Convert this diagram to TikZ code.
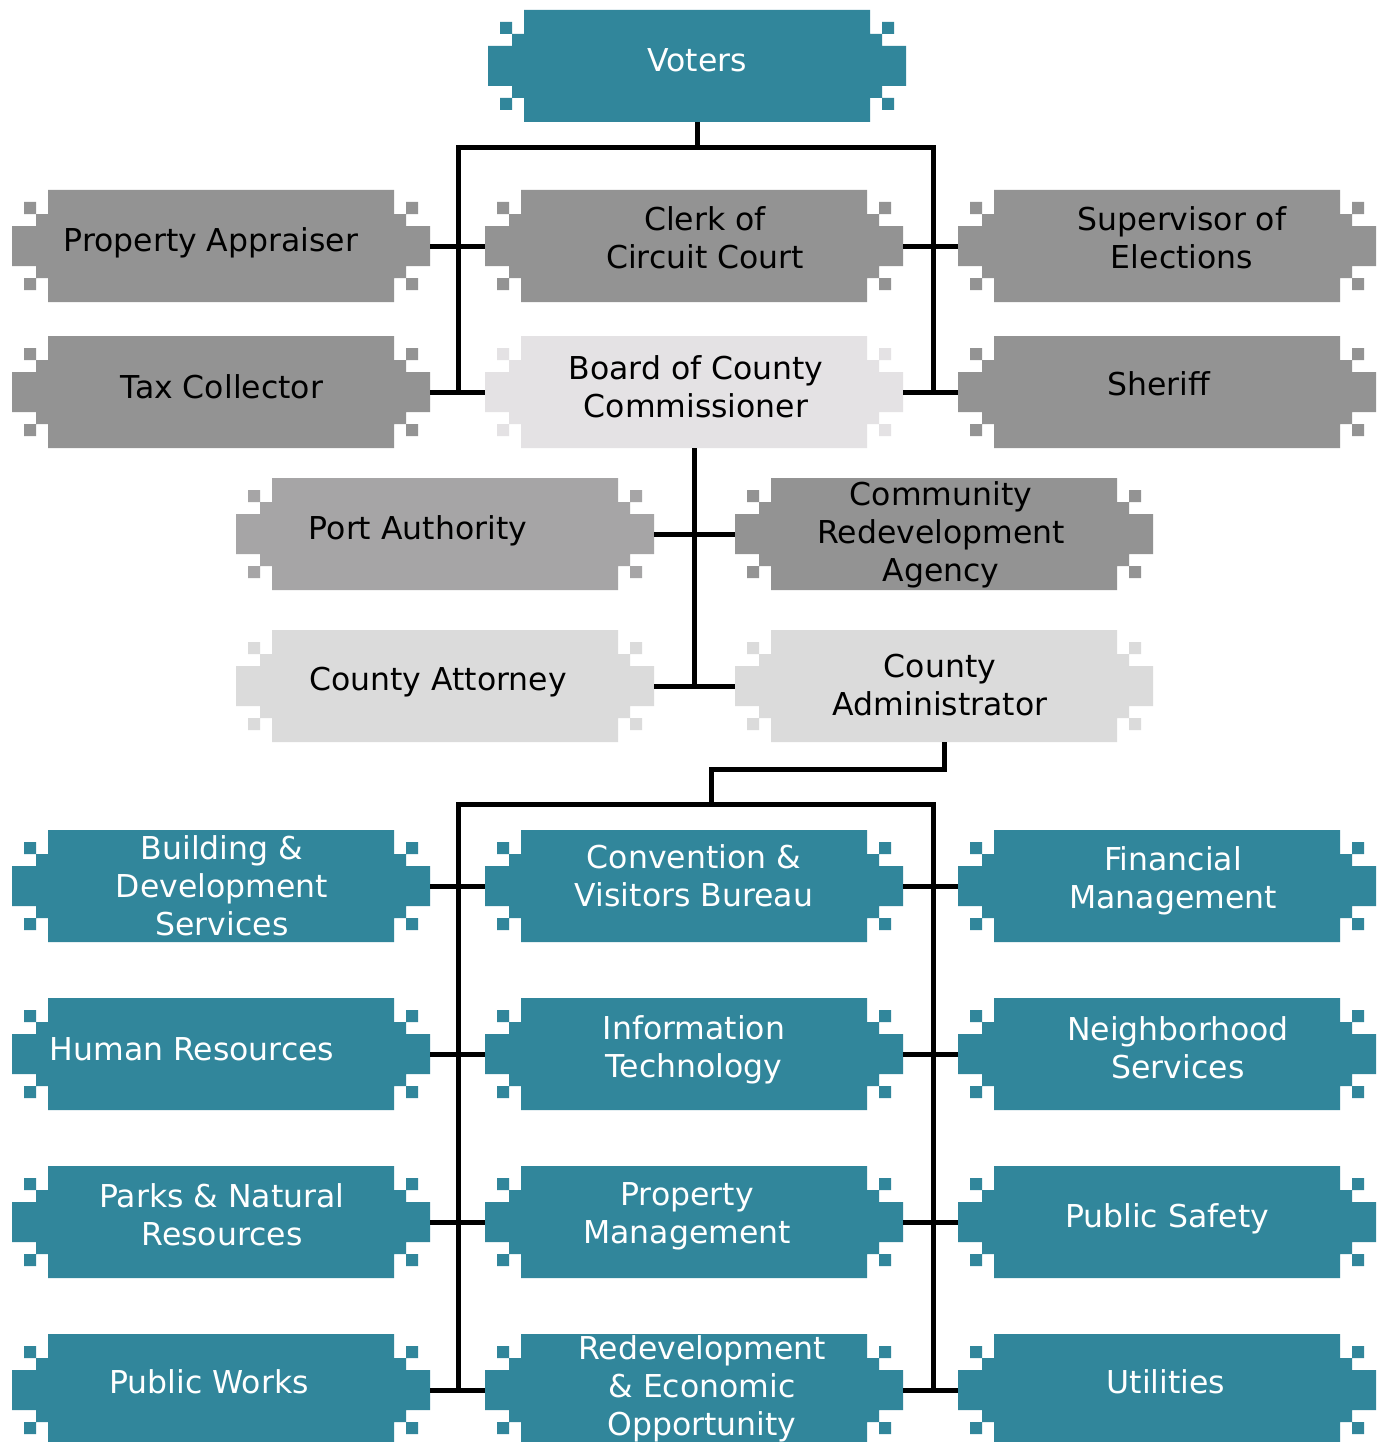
\documentclass[tikz,border=0pt]{standalone}
\usepackage{fontspec}
\setmainfont{DejaVu Sans}
\usetikzlibrary{calc}

\definecolor{tealbox}{HTML}{31869B}
\definecolor{darkbox}{HTML}{939393}
\definecolor{midbox}{HTML}{A6A5A6}
\definecolor{boardbox}{HTML}{E4E2E4}
\definecolor{lightbox}{HTML}{DBDBDB}

\tikzset{
  block/.style={minimum width=418pt, minimum height=112pt, inner sep=0pt, outer sep=0pt,
    path picture={
      \fill[#1]
        % main body
        ([xshift=36pt]path picture bounding box.north west) rectangle ([xshift=-36pt]path picture bounding box.south east)
        % left steps
        ([shift={(24pt,-24pt)}]path picture bounding box.north west) rectangle ([shift={(36pt,24pt)}]path picture bounding box.south west)
        ([shift={(0pt,-36pt)}]path picture bounding box.north west) rectangle ([shift={(24pt,36pt)}]path picture bounding box.south west)
        ([shift={(12pt,-12pt)}]path picture bounding box.north west) rectangle ([shift={(24pt,-24pt)}]path picture bounding box.north west)
        ([shift={(12pt,12pt)}]path picture bounding box.south west) rectangle ([shift={(24pt,24pt)}]path picture bounding box.south west)
        % right steps
        ([shift={(-24pt,-24pt)}]path picture bounding box.north east) rectangle ([shift={(-36pt,24pt)}]path picture bounding box.south east)
        ([shift={(0pt,-36pt)}]path picture bounding box.north east) rectangle ([shift={(-24pt,36pt)}]path picture bounding box.south east)
        ([shift={(-12pt,-12pt)}]path picture bounding box.north east) rectangle ([shift={(-24pt,-24pt)}]path picture bounding box.north east)
        ([shift={(-12pt,12pt)}]path picture bounding box.south east) rectangle ([shift={(-24pt,24pt)}]path picture bounding box.south east);
    }},
  lbl/.style={align=center, inner sep=0pt, font=\fontsize{31.5}{38}\selectfont, text=black},
  wlbl/.style={lbl, text=white},
  wire/.style={line width=5pt, line join=miter, draw=black},
}

\begin{document}
\begin{tikzpicture}[x=1pt, y=-1pt]
\useasboundingbox[fill=white] (0,0) rectangle (1386,1442);

% ---- elected level ----
\node[block=tealbox] (voters) at (697,66) {};
\node[wlbl] (voters-t) at (697,60) {Voters};

\node[block=darkbox] (appraiser) at (221,246) {};
\node[lbl] (appraiser-t) at (211,243) {Property Appraiser};
\node[block=darkbox] (clerk) at (694,246) {};
\node[lbl] (clerk-t) at (705,238) {Clerk of\\Circuit Court};
\node[block=darkbox] (supervisor) at (1167,246) {};
\node[lbl] (supervisor-t) at (1182,238) {Supervisor of\\Elections};

\node[block=darkbox] (tax) at (221,392) {};
\node[lbl] (tax-t) at (222,387) {Tax Collector};
\node[block=boardbox] (board) at (694,392) {};
\node[lbl] (board-t) at (696,387) {Board of County\\Commissioner};
\node[block=darkbox] (sheriff) at (1167,392) {};
\node[lbl] (sheriff-t) at (1159,384) {Sheriff};

% ---- board level ----
\node[block=midbox] (port) at (445,534) {};
\node[lbl] (port-t) at (418,531) {Port Authority};
\node[block=darkbox] (cra) at (944,534) {};
\node[lbl] (cra-t) at (941,535) {Community\\Redevelopment\\Agency};

\node[block=lightbox] (attorney) at (445,686) {};
\node[lbl] (attorney-t) at (438,682) {County Attorney};
\node[block=lightbox] (admin) at (944,686) {};
\node[lbl] (admin-t) at (940,685) {County\\Administrator};

% ---- departments ----
\node[block=tealbox] (building) at (221,886) {};
\node[wlbl] (building-t) at (222,886) {Building \&\\Development\\Services};
\node[block=tealbox] (convention) at (694,886) {};
\node[wlbl] (convention-t) at (694,876) {Convention \&\\Visitors Bureau};
\node[block=tealbox] (financial) at (1167,886) {};
\node[wlbl] (financial-t) at (1173,881) {Financial\\Management};

\node[block=tealbox] (hr) at (221,1054) {};
\node[wlbl] (hr-t) at (192,1049) {Human Resources};
\node[block=tealbox] (it) at (694,1054) {};
\node[wlbl] (it-t) at (694,1050) {Information\\Technology};
\node[block=tealbox] (neighborhood) at (1167,1054) {};
\node[wlbl] (neighborhood-t) at (1178,1048) {Neighborhood\\Services};

\node[block=tealbox] (parks) at (221,1222) {};
\node[wlbl] (parks-t) at (222,1215) {Parks \& Natural\\Resources};
\node[block=tealbox] (property) at (694,1222) {};
\node[wlbl] (property-t) at (687,1216) {Property\\Management};
\node[block=tealbox] (safety) at (1167,1222) {};
\node[wlbl] (safety-t) at (1167,1219) {Public Safety};

\node[block=tealbox] (works) at (221,1390) {};
\node[wlbl] (works-t) at (209,1382) {Public Works};
\node[block=tealbox] (redev) at (694,1390) {};
\node[wlbl] (redev-t) at (702,1389) {Redevelopment\\\& Economic\\Opportunity};
\node[block=tealbox] (utilities) at (1167,1390) {};
\node[wlbl] (utilities-t) at (1166,1382) {Utilities};

% ---- connectors ----
\coordinate (tl) at (458,147.5);
\coordinate (tr) at (933,147.5);
\coordinate (bl) at (458,804.5);
\coordinate (br) at (933,804.5);
\coordinate (jog) at (711.5,769.5);

\draw[wire] (voters.south) -- (voters.south |- tl);
\draw[wire] (tl |- tax.east) -- (tl) -- (tr) -- (tr |- sheriff.west);
\draw[wire] (appraiser.east) -- (clerk.west);
\draw[wire] (clerk.east) -- (supervisor.west);
\draw[wire] (tax.east) -- (board.west);
\draw[wire] (board.east) -- (sheriff.west);

\draw[wire] (board.south) -- (board.south |- attorney.east);
\draw[wire] (port.east) -- (cra.west);
\draw[wire] (attorney.east) -- (admin.west);

\draw[wire] (admin.south) |- (jog) -- (jog |- bl);
\draw[wire] (bl |- works.east) -- (bl) -- (br) -- (br |- utilities.west);
\draw[wire] (building.east) -- (convention.west);
\draw[wire] (convention.east) -- (financial.west);
\draw[wire] (hr.east) -- (it.west);
\draw[wire] (it.east) -- (neighborhood.west);
\draw[wire] (parks.east) -- (property.west);
\draw[wire] (property.east) -- (safety.west);
\draw[wire] (works.east) -- (redev.west);
\draw[wire] (redev.east) -- (utilities.west);
\end{tikzpicture}
\end{document}
